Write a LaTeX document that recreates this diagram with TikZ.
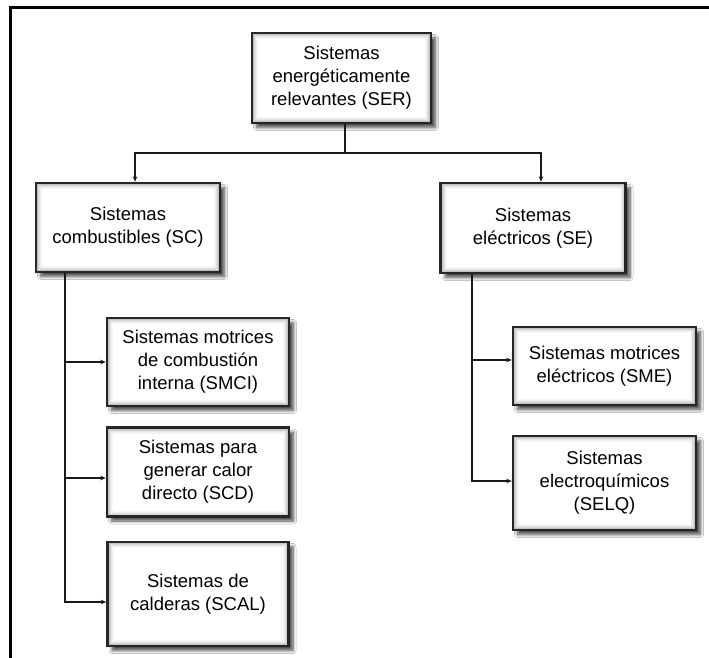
\documentclass[tikz,border=0pt]{standalone}
\usepackage{fontspec}
\setmainfont{Liberation Sans}
\usetikzlibrary{shadows.blur,arrows.meta}
\begin{document}
\begin{tikzpicture}[x=1pt,y=-1pt,
  box/.style={draw=black!85,line width=2.4pt,align=center,inner sep=2pt,
    font=\fontsize{18.5}{23}\selectfont,fill=white,
    path picture={\foreach \i/\c in {1.5/24,2.5/17,3.5/11,4.5/6,5.5/3}{
      \draw[black!\c,line width=1pt] ([xshift=\i pt,yshift=-\i pt]path picture bounding box.north west)
        rectangle ([xshift=-\i pt,yshift=\i pt]path picture bounding box.south east);}},
    blur shadow={shadow xshift=4.5pt,shadow yshift=-4.5pt,shadow blur radius=3pt,shadow blur steps=8,shadow opacity=70}},
  conn/.style={line width=1.5pt,draw=black!90},
  arr/.style={conn,-{Stealth[length=5.5pt,width=4.5pt]}}]
\useasboundingbox (0,0) rectangle (709,658);
\fill[white] (0,0) rectangle (709,658);
\draw[line width=3pt,line cap=rect] (709,8) -- (10,8) -- (10,660);
\node[box,minimum width=179pt,minimum height=90pt] (ser) at (341.5,78) {Sistemas\\energéticamente\\relevantes (SER)};
\node[box,minimum width=184pt,minimum height=89pt] (sc) at (128,227.5) {Sistemas\\combustibles (SC)};
\node[box,minimum width=185pt,minimum height=90pt] (se) at (533,228) {Sistemas\\eléctricos (SE)};
\node[box,minimum width=182pt,minimum height=88pt] (smci) at (198,362) {Sistemas motrices\\de combustión\\interna (SMCI)};
\node[box,minimum width=182pt,minimum height=89pt] (scd) at (198,472) {Sistemas para\\generar calor\\directo (SCD)};
\node[box,minimum width=181pt,minimum height=104pt] (scal) at (198,594) {Sistemas de\\calderas (SCAL)};
\node[box,minimum width=183pt,minimum height=78pt] (sme) at (604.5,366) {Sistemas motrices\\eléctricos (SME)};
\node[box,minimum width=183pt,minimum height=94pt] (selq) at (604.5,483) {Sistemas\\electroquímicos\\(SELQ)};
\coordinate (hub) at (345,153);
\coordinate (lt) at (65,0);
\coordinate (rt) at (472,0);
\draw[conn] (ser.south -| hub) -- (hub);
\draw[arr] (hub) -| ([xshift=7pt]sc.north);
\draw[arr] (hub) -| ([xshift=8pt]se.north);
\draw[arr] (sc.south -| lt) |- (smci.west);
\draw[arr] (sc.south -| lt) |- ([yshift=-6pt]scd.west);
\draw[arr] (sc.south -| lt) |- ([yshift=-8pt]scal.west);
\draw[arr] (se.south -| rt) |- ([yshift=6pt]sme.west);
\draw[arr] (se.south -| rt) |- ([yshift=2pt]selq.west);
\end{tikzpicture}
\end{document}
